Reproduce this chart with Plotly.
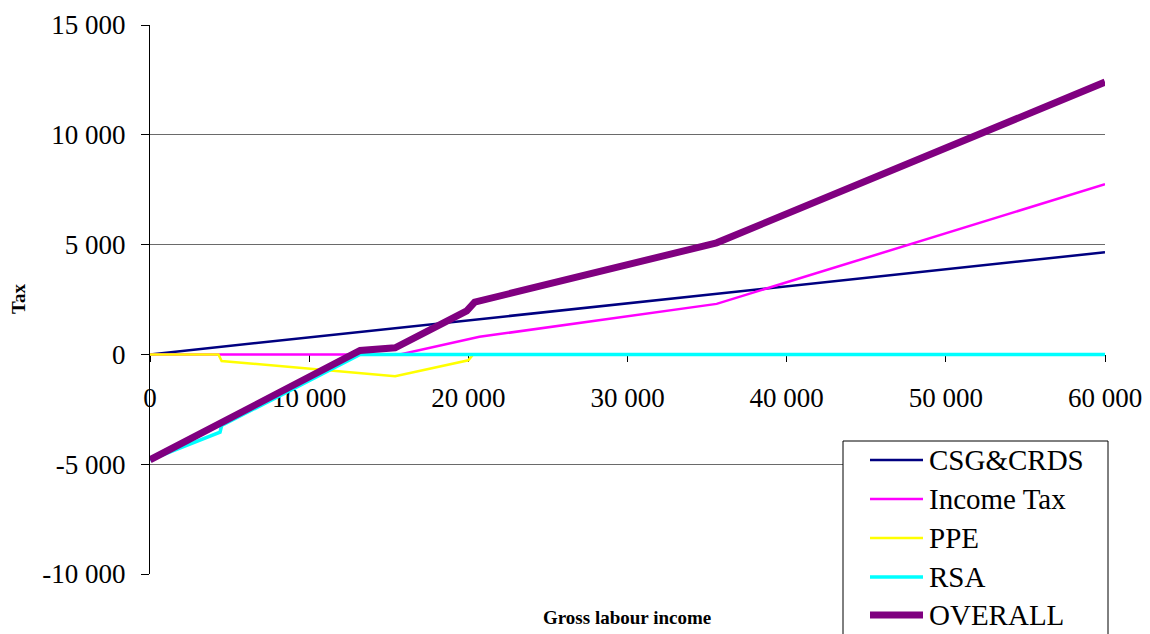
import plotly.graph_objects as go

# Tax components by gross labour income (euros)
csg_x = [0, 60000]
csg_y = [0, 4650]

income_tax_x = [0, 15700, 20700, 35600, 60000]
income_tax_y = [0, 0, 800, 2300, 7750]

ppe_x = [0, 4300, 4500, 15400, 20000, 20300, 60000]
ppe_y = [0, 0, -300, -990, -270, 0, 0]

rsa_x = [0, 4400, 4500, 13200, 60000]
rsa_y = [-4800, -3540, -3240, 0, 0]

overall_x = [0, 13200, 15400, 19900, 20400, 35600, 60000]
overall_y = [-4800, 180, 300, 1980, 2380, 5080, 12400]

x_ticks = [0, 10000, 20000, 30000, 40000, 50000, 60000]
x_tick_labels = ["0", "10 000", "20 000", "30 000", "40 000", "50 000", "60 000"]
y_ticks = [-10000, -5000, 0, 5000, 10000, 15000]
y_tick_labels = ["-10 000", "-5 000", "0", "5 000", "10 000", "15 000"]

series_names = ["CSG&CRDS", "Income Tax", "PPE", "RSA", "OVERALL"]
series_colors = ["#000080", "#FF00FF", "#FFFF00", "#00FFFF", "#800080"]
series_widths = [2.5, 2.5, 2.5, 3.5, 7]
series_data = [
    (csg_x, csg_y),
    (income_tax_x, income_tax_y),
    (ppe_x, ppe_y),
    (rsa_x, rsa_y),
    (overall_x, overall_y),
]

W, H = 1150, 634
L, R, T, B = 150, 45, 25, 60
PW, PH = W - L - R, H - T - B
SERIF = "Liberation Serif, Times New Roman, serif"


def px_x(p):
    return (p - L) / PW


def px_y(p):
    return (H - B - p) / PH


fig = go.Figure()
for (xs, ys), name, color, width in zip(series_data, series_names, series_colors, series_widths):
    fig.add_trace(go.Scatter(x=xs, y=ys, mode="lines", name=name,
                             line=dict(color=color, width=width),
                             hoverinfo="skip"))

y_min, y_max = -10000, 15000

fig.update_layout(
    width=W, height=H,
    margin=dict(l=L, r=R, t=T, b=B, autoexpand=False),
    paper_bgcolor="white", plot_bgcolor="white",
    showlegend=False,
    font=dict(family=SERIF, color="black"),
    xaxis=dict(
        range=[0, 60000], tickvals=x_ticks, ticktext=x_tick_labels,
        anchor="free", position=(0 - y_min) / (y_max - y_min),
        showgrid=False, zeroline=False, automargin=False,
        showline=True, linecolor="black", linewidth=1,
        ticks="outside", ticklen=7, tickcolor="black",
        tickfont=dict(size=27, family=SERIF, color="black"),
        ticklabelstandoff=12, layer="below traces",
    ),
    yaxis=dict(
        range=[y_min, y_max], tickvals=y_ticks, ticktext=y_tick_labels,
        showgrid=True, gridcolor="#6a6a6a", gridwidth=1, zeroline=False,
        automargin=False,
        showline=True, linecolor="black", linewidth=1,
        ticks="outside", ticklen=8, tickcolor="black",
        tickfont=dict(size=27, family=SERIF, color="black"),
        ticklabelstandoff=10, layer="below traces",
    ),
)

# Axis titles
fig.add_annotation(text="<b>Gross labour income</b>", xref="paper", yref="paper",
                   x=px_x(627), y=px_y(617), showarrow=False,
                   xanchor="center", yanchor="middle",
                   font=dict(size=19, family=SERIF, color="black"))
fig.add_annotation(text="<b>Tax</b>", xref="paper", yref="paper",
                   x=px_x(18), y=px_y(299), showarrow=False, textangle=-90,
                   xanchor="center", yanchor="middle",
                   font=dict(size=19, family=SERIF, color="black"))

# Legend box with line samples
box_l, box_r, box_t, box_b = 843, 1108, 441, 700
fig.add_shape(type="rect", xref="paper", yref="paper",
              x0=px_x(box_l), x1=px_x(box_r), y0=px_y(box_b), y1=px_y(box_t),
              line=dict(color="black", width=1), fillcolor="white", layer="above")
item_y = [460, 499, 538, 577, 615]
for name, color, width, yy in zip(series_names, series_colors, series_widths, item_y):
    fig.add_shape(type="line", xref="paper", yref="paper",
                  x0=px_x(870), x1=px_x(923), y0=px_y(yy), y1=px_y(yy),
                  line=dict(color=color, width=width),
                  layer="above")
    fig.add_annotation(text=name, xref="paper", yref="paper",
                       x=px_x(927), y=px_y(yy), showarrow=False,
                       xanchor="left", yanchor="middle",
                       font=dict(size=29, family=SERIF, color="black"))

fig.write_html("out.html")
